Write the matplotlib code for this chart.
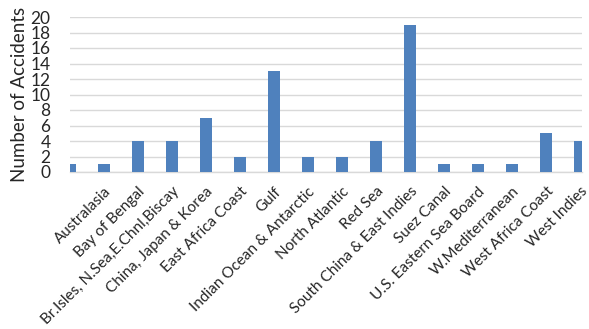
import matplotlib
matplotlib.use("Agg")
import matplotlib.pyplot as plt
import numpy as np

plt.rcParams['font.family'] = ['Lato', 'DejaVu Sans']

regions = ["", "Australasia", "Bay of Bengal", "Br.Isles, N.Sea,E.Chnl,Biscay",
           "China, Japan & Korea", "East Africa Coast", "Gulf",
           "Indian Ocean & Antarctic", "North Atlantic", "Red Sea",
           "South China & East Indies", "Suez Canal", "U.S. Eastern Sea Board",
           "W.Mediterranean", "West Africa Coast", "West Indies"]
accidents = [1, 1, 4, 4, 7, 2, 13, 2, 2, 4, 19, 1, 1, 1, 5, 4]
y_ticks = list(range(0, 21, 2))

fig = plt.figure(figsize=(5.89, 3.29), dpi=100)
ax = fig.add_axes([70/589, 1 - 172/329, 512/589, 155/329])

x = np.arange(len(regions))
ax.bar(x, accidents, width=0.36, color="#4f81bd", zorder=3)

ax.set_xlim(0, len(regions) - 1 + 0.06)
ax.set_ylim(0, 20)
ax.set_yticks(y_ticks)
ax.set_yticklabels([str(t) for t in y_ticks], fontsize=12.5, color="#262626")
ax.yaxis.grid(True, color="#d9d9d9", linewidth=1.0, zorder=0)
ax.tick_params(axis="y", length=0, pad=14)
ax.tick_params(axis="x", length=0, pad=9)
ax.set_xticks(x)
ax.set_xticklabels(regions, rotation=45, ha="right", rotation_mode="anchor",
                   fontsize=11, color="#262626")

for side in ("left", "right", "top"):
    ax.spines[side].set_visible(False)
ax.spines["bottom"].set_color("#d9d9d9")
ax.spines["bottom"].set_linewidth(1.0)

ax.set_ylabel("Number of Accidents", fontsize=13.5, color="#262626", labelpad=2)

fig.savefig("out.png", dpi=100)
